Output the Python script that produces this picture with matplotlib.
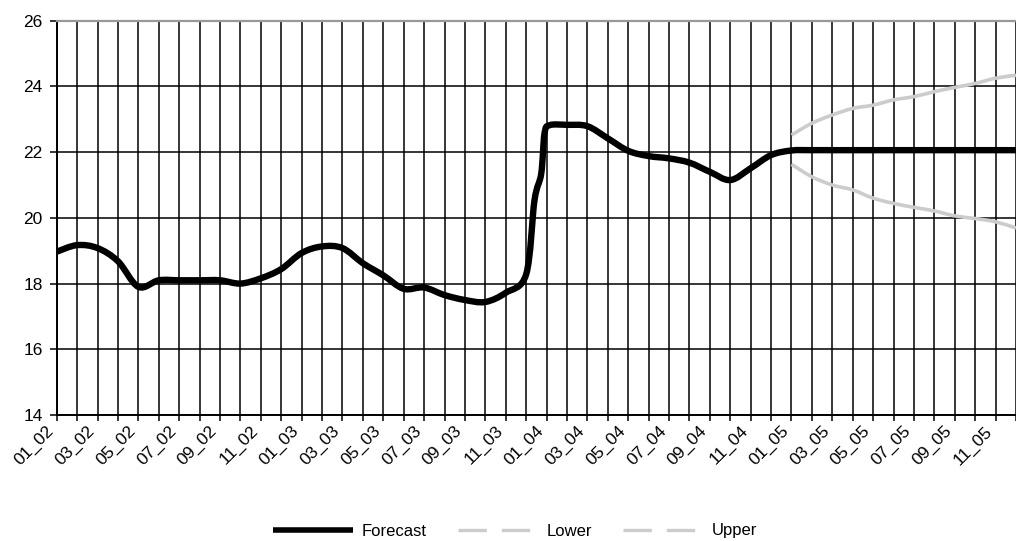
import matplotlib
matplotlib.use("Agg")
import matplotlib.pyplot as plt
from matplotlib.lines import Line2D
from matplotlib.path import Path
from matplotlib.patches import PathPatch

# Month labels, Jan 2002 .. Dec 2005 (MM_YY)
years = ["02", "03", "04", "05"]
months = [f"{m:02d}_{y}" for y in years for m in range(1, 13)]

# Forecast series: month position (0 = 01_02) and value
forecast_pos = [0, 1, 2, 3, 4, 5, 6, 7, 8, 9, 10, 11, 12, 13, 14, 15, 16, 17,
                18, 19, 20, 21, 22, 23, 23.41, 23.74, 23.9, 24.15, 25, 26, 27,
                28, 29, 30, 31, 32, 33, 34, 35, 36, 37, 38, 39, 40, 41, 42, 43,
                44, 45, 46, 47]
forecast_val = [18.97, 19.17, 19.08, 18.68, 17.90, 18.10, 18.10, 18.10, 18.10,
                18.00, 18.16, 18.44, 18.93, 19.13, 19.08, 18.62, 18.25, 17.84,
                17.88, 17.65, 17.50, 17.44, 17.72, 18.28, 20.54, 21.35, 22.57,
                22.82, 22.83, 22.79, 22.42, 22.04, 21.88, 21.81, 21.68, 21.40,
                21.15, 21.51, 21.91, 22.05, 22.06, 22.06, 22.06, 22.06, 22.06,
                22.06, 22.06, 22.06, 22.06, 22.06, 22.06]

# Confidence band, 01_05 .. 12_05
band_pos = [36, 37, 38, 39, 40, 41, 42, 43, 44, 45, 46, 47]
lower_val = [21.63, 21.25, 21.00, 20.85, 20.60, 20.44, 20.32, 20.21, 20.06,
             19.98, 19.88, 19.69]
upper_val = [22.52, 22.88, 23.13, 23.33, 23.43, 23.59, 23.69, 23.84, 23.97,
             24.09, 24.25, 24.34]

y_ticks = [14, 16, 18, 20, 22, 24, 26]


def smooth_path(xs, ys):
    """Cubic Bezier path through every point (Catmull-Rom style tangents)."""
    pts = list(zip(xs, ys))
    verts = [pts[0]]
    codes = [Path.MOVETO]
    n = len(pts)
    for i in range(n - 1):
        p0 = pts[i - 1] if i > 0 else pts[i]
        p1 = pts[i]
        p2 = pts[i + 1]
        p3 = pts[i + 2] if i + 2 < n else pts[i + 1]
        c1 = (p1[0] + (p2[0] - p0[0]) / 6, p1[1] + (p2[1] - p0[1]) / 6)
        c2 = (p2[0] - (p3[0] - p1[0]) / 6, p2[1] - (p3[1] - p1[1]) / 6)
        verts += [c1, c2, p2]
        codes += [Path.CURVE4] * 3
    return Path(verts, codes)


W, H = 1016, 541
fig = plt.figure(figsize=(W / 100, H / 100), dpi=100)
ax = fig.add_axes([56.7 / W, 1 - 415 / H, 1 - 56.7 / W, (415 - 20.7) / H])

band_color = "#cccccc"
for vals in (lower_val, upper_val):
    ax.add_patch(PathPatch(smooth_path(band_pos, vals), fill=False,
                           ec=band_color, lw=2.6, capstyle="butt",
                           joinstyle="round", zorder=3))
ax.add_patch(PathPatch(smooth_path(forecast_pos, forecast_val), fill=False,
                       ec="black", lw=4.6, capstyle="butt",
                       joinstyle="round", zorder=4))

ax.set_xlim(0, (W - 56.7) / 20.5)
ax.set_ylim(14, 26)

# monthly ticks, labels on every other month
ax.set_xticks(range(len(months)))
ax.set_xticklabels([lab if i % 2 == 0 else "" for i, lab in enumerate(months)],
                   rotation=45, ha="right", va="top",
                   fontsize=12.5, family="Liberation Sans")
ax.set_yticks(y_ticks)
ax.set_yticklabels([str(v) for v in y_ticks], fontsize=12.5,
                   family="Liberation Sans")
ax.tick_params(axis="x", direction="out", length=4, width=1.1, color="black",
               pad=2)
ax.tick_params(axis="y", direction="out", length=5, width=1.1, color="black",
               pad=5)

ax.grid(True, color="black", lw=1.1, zorder=1)
ax.set_axisbelow(True)

ax.spines["right"].set_visible(False)
ax.spines["top"].set_color("#999999")
ax.spines["top"].set_linewidth(1.6)
ax.spines["left"].set_linewidth(1.4)
ax.spines["bottom"].set_linewidth(1.4)

handles = [
    Line2D([], [], color="black", lw=4.0, solid_capstyle="butt"),
    Line2D([], [], color=band_color, lw=2.4, dashes=(8.5, 4.5),
           dash_capstyle="butt"),
    Line2D([], [], color=band_color, lw=2.4, dashes=(8.5, 4.5),
           dash_capstyle="butt"),
]
fig.legend(handles, ["Forecast", "Lower", "Upper"], loc="center",
           bbox_to_anchor=(515 / W, 1 - 531 / H), ncol=3, frameon=False,
           handlelength=4.8, handletextpad=0.5, columnspacing=1.9,
           prop={"family": "Liberation Sans", "size": 12})

fig.savefig("out.png", dpi=100)
